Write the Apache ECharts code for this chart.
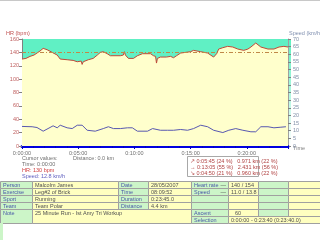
<!DOCTYPE html>
<html><head><meta charset="utf-8">
<script src="https://cdn.jsdelivr.net/npm/echarts@6/dist/echarts.min.js"></script>
<style>html,body{margin:0;padding:0;background:#fff}#c{width:320px;height:240px}</style>
</head><body><div id="c"></div>
<script>
// ---- data ----
const hrTime   = [0,21,43,64,80,96,113,134,161,188,204,241,273,295,316,321,327,354,380,402,418,434,455,472,525,541,547,552,568,595,616,643,686,702,713,718,723,739,771,793,809,825,847,873,900,916,954,991,1023,1039,1050,1072,1098,1125,1152,1184,1206,1222,1248,1275,1313,1345,1372,1398,1420];
const hrValues = [130,131,134,136,139,142,146,144,140,136,130,129,128,126,127,122,126,129,131,136,140,141,138,135,135,136,141,136,131,131,135,138,138,135,134,124,131,133,133,134,132,135,139,140,141,143,141,139,133,138,145,147,149,148,145,143,145,148,154,148,145,145,148,149,148];
const speedTime   = [0,54,80,113,139,166,188,204,241,268,295,321,348,391,434,461,488,525,563,589,616,670,697,739,777,809,847,884,916,954,991,1023,1072,1104,1141,1179,1222,1248,1275,1313,1345,1382,1409];
const speedValues = [12.8,12.6,12.1,9.7,11.4,13.2,11.9,13.6,11.9,11.4,13.6,13.6,10.3,9.7,11.4,12.6,11.4,11.4,11.9,11.9,9.7,9.7,11.4,10.3,10.3,10.3,10.8,10.3,11.4,13.6,12.6,10.3,8.8,10.3,11.4,10.3,9.3,9.3,12.6,12.6,11.9,12.3,12.6];
const hrLimit = 140;
const xMax = 1420;

const cursorLines = ["Cursor values:", "Time: 0:00:00", "HR: 130 bpm", "Speed: 12.8 km/h"];
const distanceText = "Distance: 0.0 km";
const summaryLines = ["\u2197 0:05:45 (24 %)   0.971 km (22 %)", "\u2192 0:13:05 (55 %)   2.431 km (56 %)", "\u2198 0:04:50 (21 %)   0.960 km (22 %)"];
const tableRows = [
  ["Person", "Malcolm James", "Date", "28/05/2007", "Heart rate", "140 / 154", "", ""],
  ["Exercise", "Leg#2 of Brick", "Time", "08:09:52", "Speed", "11.0 / 13.8", "", ""],
  ["Sport", "Running", "Duration", "0:23:45.0", "", "", "", ""],
  ["Team", "Team Polar", "Distance", "4.4 km", "", "", "", ""]
];
const noteLabel = "Note";
const noteText = "25 Minute Run - Ist Amy Tri Workup";
const ascentRow = ["Ascent", "60"];
const selectionRow = ["Selection", "0:00:00 - 0:23:40 (0:23:40.0)"];

// ---- helpers ----
function pad(n){return (n<10?'0':'')+n;}
function fmtTime(v){const h=Math.floor(v/3600),m=Math.floor(v%3600/60),s=Math.round(v%60);return h+':'+pad(m)+':'+pad(s);}

const FONT = 'Liberation Sans';
const FS = 5.5;
const graphics = [];
function txt(x,y,t,color,align){graphics.push({type:'text',x:x,y:y,silent:true,style:{text:t,fill:color,font:FS+'px "'+FONT+'"',textAlign:align||'left',textVerticalAlign:'middle'}});}
function rect(x,y,w,h,fill,stroke){graphics.push({type:'rect',silent:true,shape:{x:x,y:y,width:w,height:h},style:{fill:fill,stroke:stroke||null,lineWidth:stroke?1:0}});}

// top border
rect(0,0,320,1,'#c8c8c8');
// axis names
txt(6,33,'HR (bpm)','#c05050');
txt(289,33,'Speed (km/h)','#8090b0');
txt(293,148,'Time','#808080');
// right axis colour bar
graphics.push({type:'rect',silent:true,shape:{x:288,y:39,width:3,height:107},style:{fill:new echarts.graphic.LinearGradient(0,0,0,1,[{offset:0,color:'#5ef0c0'},{offset:1,color:'#ffffff'}])}});
// 140 bpm label
txt(151,141,hrLimit+' bpm','#a08060','center');
// cursor values
const cursorColors=['#707070','#707070','#d04040','#6060c0'];
cursorLines.forEach((l,i)=>txt(22,158+i*6,l,cursorColors[i]));
txt(73,158,distanceText,'#707070');
// summary box
rect(187.5,156.5,71,20,'#ffffff','#a8a8a8');
summaryLines.forEach((l,i)=>txt(190,161+i*6,l,'#b04040'));

// table
const colX=[0,32,118,148,191,228,258,288,320];
const rowY=[181,188,195,202,209,223];
const GREEN='#ccf5c8', YELLOW='#ffffc0', LINE='#a0a0a0', LBL='#4858a8', VAL='#505050';
for(let r=0;r<4;r++){
  for(let c=0;c<8;c++){
    rect(colX[c]+0.5,rowY[r]+0.5,colX[c+1]-colX[c],rowY[r+1]-rowY[r],c%2===0?GREEN:YELLOW,LINE);
    const t=tableRows[r][c];
    if(t) txt(colX[c]+3,(rowY[r]+rowY[r+1])/2+0.5,t,c%2===0?LBL:VAL);
  }
  if(tableRows[r][4]) txt(226,(rowY[r]+rowY[r+1])/2+0.5,'\u2014',VAL,'right');
}
// note row
rect(colX[0]+0.5,rowY[4]+0.5,colX[1]-colX[0],rowY[5]-rowY[4],GREEN,LINE);
rect(colX[1]+0.5,rowY[4]+0.5,colX[4]-colX[1],rowY[5]-rowY[4],YELLOW,LINE);
txt(3,rowY[4]+4,noteLabel,LBL);
txt(35,rowY[4]+4,noteText,VAL);
const midY=216;
rect(colX[4]+0.5,rowY[4]+0.5,colX[5]-colX[4],midY-rowY[4],GREEN,LINE);
rect(colX[5]+0.5,rowY[4]+0.5,colX[6]-colX[5],midY-rowY[4],YELLOW,LINE);
rect(colX[6]+0.5,rowY[4]+0.5,colX[7]-colX[6],midY-rowY[4],GREEN,LINE);
rect(colX[7]+0.5,rowY[4]+0.5,colX[8]-colX[7],midY-rowY[4],YELLOW,LINE);
rect(colX[4]+0.5,midY+0.5,colX[5]-colX[4],rowY[5]-midY,GREEN,LINE);
rect(colX[5]+0.5,midY+0.5,colX[8]-colX[5],rowY[5]-midY,YELLOW,LINE);
txt(colX[4]+3,(rowY[4]+midY)/2+0.5,ascentRow[0],LBL);
txt(colX[5]+7,(rowY[4]+midY)/2+0.5,ascentRow[1],VAL);
txt(colX[4]+3,(midY+rowY[5])/2+0.5,selectionRow[0],LBL);
txt(colX[5]+3,(midY+rowY[5])/2+0.5,selectionRow[1],VAL);
// bottom-left strip
rect(0,223,3,17,'#ccf5c8');

const chart = echarts.init(document.getElementById('c'), null, {renderer:'canvas'});
chart.setOption({
  animation:false,
  backgroundColor:'#ffffff',
  grid:{left:22,right:32,top:39,bottom:94,show:true,backgroundColor:'#60f0c4',borderWidth:0},
  xAxis:{type:'value',min:0,max:xMax,interval:300,
    axisLine:{show:true,onZero:false,lineStyle:{color:'#0000e0',width:3}},
    axisTick:{show:true,length:3,lineStyle:{color:'#0000c0'}},
    minorTick:{show:true,splitNumber:5,length:2,lineStyle:{color:'#0000c0'}},
    splitLine:{show:false},
    axisLabel:{formatter:fmtTime,fontSize:FS,fontFamily:FONT,color:'#707070',margin:4,showMaxLabel:false}},
  yAxis:[
    {type:'value',min:0,max:160,interval:20,position:'left',
      axisLine:{show:true,lineStyle:{color:'#808080'}},
      axisTick:{show:true,length:3,lineStyle:{color:'#808080'}},
      splitLine:{show:false},
      axisLabel:{fontSize:FS,fontFamily:FONT,color:'#c06060',margin:3}},
    {type:'value',min:0,max:70,interval:5,position:'right',
      axisLine:{show:true,lineStyle:{color:'#a0a0a0'}},
      axisTick:{show:true,length:3,lineStyle:{color:'#808080'}},
      splitLine:{show:false},
      axisLabel:{fontSize:FS,fontFamily:FONT,color:'#8090a8',margin:5}}
  ],
  series:[
    {type:'line',name:'HR',yAxisIndex:0,symbol:'none',
      data:hrTime.map((t,i)=>[t,hrValues[i]]),
      lineStyle:{color:'#c04838',width:1},
      areaStyle:{color:'#ffffcc',opacity:1,origin:'start'},
      markLine:{symbol:'none',silent:true,label:{show:false},
        lineStyle:{color:'#c08848',type:[4,2,1,2],width:1},
        data:[{yAxis:hrLimit}]},
      z:2},
    {type:'line',name:'Speed',yAxisIndex:1,symbol:'none',
      data:speedTime.map((t,i)=>[t,speedValues[i]]),
      lineStyle:{color:'#5858b0',width:1},z:3}
  ],
  graphic:graphics
});
</script>
</body></html>
